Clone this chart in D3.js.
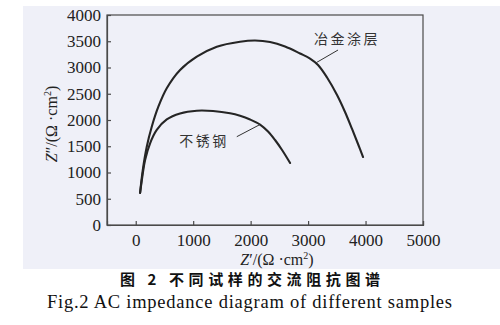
<!DOCTYPE html>
<html>
<head>
<meta charset="utf-8">
<script src="https://cdn.jsdelivr.net/npm/d3@7"></script>
<style>
  html, body { margin: 0; padding: 0; background: #ffffff; }
  svg { display: block; }
</style>
</head>
<body>
<svg id="chart" width="500" height="325"></svg>
<script>
// Nyquist data, Z' (real) vs Z'' (imaginary), in Ω·cm²
const coatingRe = [76, 123, 192, 279, 394, 540, 772, 1063, 1411, 1816, 2077, 2338, 2599, 2860, 3034, 3173, 3330, 3504, 3643, 3765, 3869, 3957];
const coatingIm = [610, 1048, 1491, 1872, 2253, 2604, 2952, 3206, 3396, 3491, 3514, 3486, 3400, 3267, 3171, 3048, 2810, 2476, 2152, 1829, 1543, 1295];
const steelRe = [76, 119, 163, 250, 366, 540, 772, 1063, 1346, 1642, 1816, 1990, 2164, 2303, 2425, 2547, 2687];
const steelIm = [610, 952, 1238, 1556, 1810, 2010, 2124, 2177, 2171, 2128, 2080, 2010, 1914, 1781, 1619, 1429, 1181];

const xTicks = [0, 1000, 2000, 3000, 4000, 5000];
const yTicks = [0, 500, 1000, 1500, 2000, 2500, 3000, 3500, 4000];

const seriesNames = ["冶金涂层", "不锈钢"];
const captionCn = "图 2  不同试样的交流阻抗图谱";
const captionEn = "Fig.2  AC impedance diagram of different samples";

const SERIF = '"Liberation Serif", "Times New Roman", serif';
const CJK = '"Noto Sans CJK SC", sans-serif';

const svg = d3.select("#chart");

// tinted figure panel
svg.append("rect").attr("x", 23).attr("y", 6).attr("width", 477).attr("height", 263)
  .attr("fill", "#eff0f8");

const x = d3.scaleLinear().domain([-500, 5000]).range([107, 423]);
const y = d3.scaleLinear().domain([0, 4000]).range([225, 15]);

const axisColor = "#4a4a4a";

// frame
svg.append("rect")
  .attr("x", x.range()[0]).attr("y", y.range()[1])
  .attr("width", x.range()[1] - x.range()[0])
  .attr("height", y.range()[0] - y.range()[1])
  .attr("fill", "none").attr("stroke", axisColor).attr("stroke-width", 1.2);

// axes with inward ticks
const xAxis = d3.axisBottom(x).tickValues(xTicks).tickSize(-4).tickPadding(9).tickFormat(d3.format("d"));
const yAxis = d3.axisLeft(y).tickValues(yTicks).tickSize(-4).tickPadding(6).tickFormat(d3.format("d"));

const gx = svg.append("g").attr("transform", `translate(0,${y.range()[0]})`).call(xAxis);
const gy = svg.append("g").attr("transform", `translate(${x.range()[0]},0)`).call(yAxis);

[gx, gy].forEach(g => {
  g.attr("font-family", null).attr("font-size", null);
  g.select(".domain").attr("stroke", axisColor).attr("stroke-width", 1.2);
  g.selectAll(".tick line").attr("stroke", axisColor).attr("stroke-width", 1.2);
  g.selectAll(".tick text")
    .style("font-family", SERIF)
    .style("font-size", "17px")
    .attr("fill", "#222");
});

// curves
const line = d3.line()
  .x(d => x(d[0]))
  .y(d => y(d[1]))
  .curve(d3.curveCatmullRom.alpha(0.5));

const coating = coatingRe.map((v, i) => [v, coatingIm[i]]);
const steel = steelRe.map((v, i) => [v, steelIm[i]]);

[coating, steel].forEach(data => {
  svg.append("path")
    .datum(data)
    .attr("d", line)
    .attr("fill", "none")
    .attr("stroke", "#252525")
    .attr("stroke-width", 2.1)
    .attr("stroke-linecap", "round");
});

// curve labels with leader lines
svg.append("line")
  .attr("x1", x(3521)).attr("y1", y(3333))
  .attr("x2", x(3139)).attr("y2", y(3090))
  .attr("stroke", "#333").attr("stroke-width", 1);
svg.append("text")
  .style("font-family", CJK)
  .attr("x", 347).attr("y", 44)
  .attr("text-anchor", "middle")
  .style("font-size", "14px").attr("letter-spacing", 2.5)
  .attr("fill", "#333")
  .text(seriesNames[0]);

svg.append("line")
  .attr("x1", x(1759)).attr("y1", y(1682))
  .attr("x2", x(2164)).attr("y2", y(1914))
  .attr("stroke", "#333").attr("stroke-width", 1);
svg.append("text")
  .style("font-family", CJK)
  .attr("x", 204).attr("y", 146)
  .attr("text-anchor", "middle")
  .style("font-size", "14px").attr("letter-spacing", 2.5)
  .attr("fill", "#333")
  .text(seriesNames[1]);

// axis titles
function axisTitle(sel, primes) {
  sel.append("tspan").attr("font-style", "italic").text("Z");
  sel.append("tspan").text(primes + "/(Ω ·cm");
  sel.append("tspan").style("font-size", "10px").attr("dy", -6).text("2");
  sel.append("tspan").attr("dy", 6).text(")");
}

const xt = svg.append("text")
  .style("font-family", SERIF)
  .attr("x", 277).attr("y", 265)
  .attr("text-anchor", "middle")
  .style("font-size", "16px").attr("fill", "#222");
axisTitle(xt, "′");

const yt = svg.append("text")
  .style("font-family", SERIF)
  .attr("transform", "translate(57,124) rotate(-90)")
  .attr("text-anchor", "middle")
  .style("font-size", "16px").attr("fill", "#222");
axisTitle(yt, "″");

// captions
svg.append("text")
  .style("font-family", CJK)
  .attr("x", 120).attr("y", 285)
  .attr("textLength", 260).attr("lengthAdjust", "spacing")
  .style("font-size", "15px").attr("font-weight", "bold")
  .attr("fill", "#111")
  .text(captionCn);

svg.append("text")
  .style("font-family", SERIF)
  .attr("x", 47).attr("y", 308)
  .attr("textLength", 405).attr("lengthAdjust", "spacing")
  .style("font-size", "18.5px")
  .attr("fill", "#111")
  .text(captionEn);
</script>
</body>
</html>
